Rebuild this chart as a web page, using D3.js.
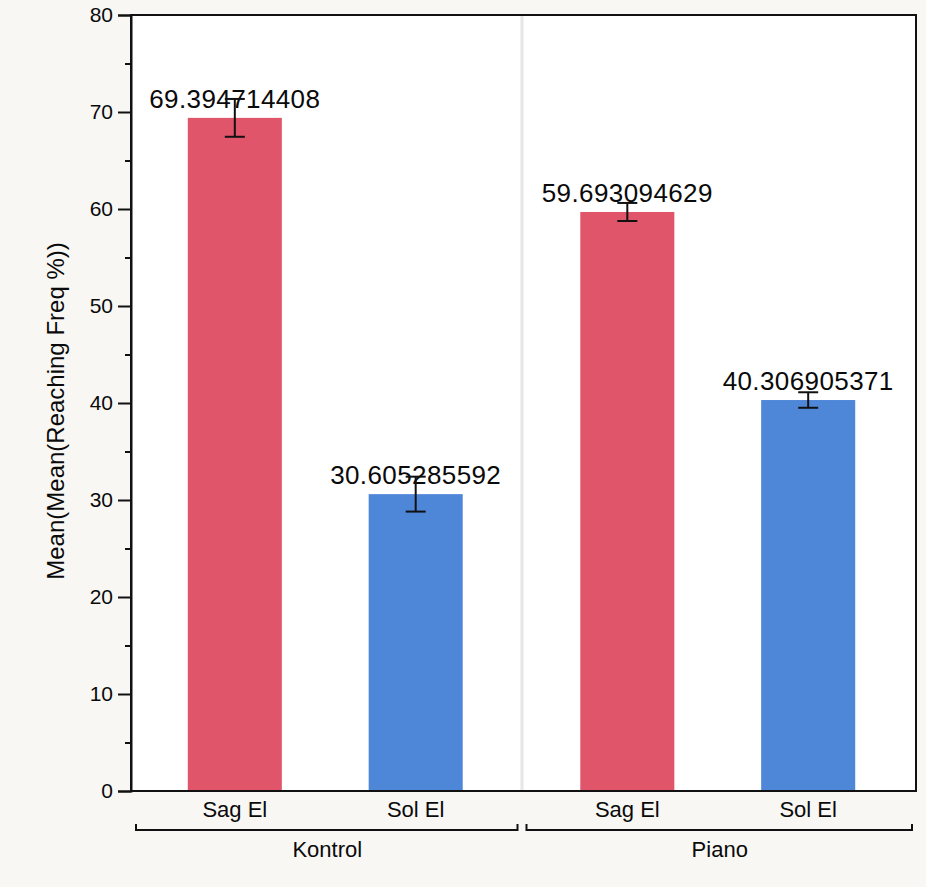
<!DOCTYPE html>
<html>
<head>
<meta charset="utf-8">
<script src="https://cdn.jsdelivr.net/npm/d3@7"></script>
<style>
  html, body { margin: 0; padding: 0; background: #f8f7f4; }
  svg { display: block; }
  text { font-family: "Liberation Sans", Arial, Helvetica, sans-serif; fill: #0a0a0a; }
</style>
</head>
<body>
<svg id="chart" width="926" height="887"></svg>
<script>
// ---- data ----
const groups = ["Kontrol", "Piano"];
const categories = ["Sag El", "Sol El"];
const kontrolMeans = [69.394714408, 30.605285592];
const pianoMeans = [59.693094629, 40.306905371];
const kontrolErr = [1.95, 1.8];
const pianoErr = [0.93, 0.8];
const yTicks = [0, 10, 20, 30, 40, 50, 60, 70, 80];
const yMinorTicks = [5, 15, 25, 35, 45, 55, 65, 75];
const yLabel = "Mean(Mean(Reaching Freq %))";
const barColors = ["#e0556a", "#4f87d8"];

const data = [];
groups.forEach((g, gi) => {
  const means = gi === 0 ? kontrolMeans : pianoMeans;
  const errs = gi === 0 ? kontrolErr : pianoErr;
  categories.forEach((c, ci) => {
    data.push({ group: g, cat: c, value: means[ci], err: errs[ci] });
  });
});

// ---- layout ----
const svg = d3.select("#chart");
const margin = { left: 131, right: 10, top: 15, bottom: 96 };
const W = 926, H = 887;
const x0 = margin.left, x1 = W - margin.right;
const yTop = margin.top, yBot = H - margin.bottom;

const y = d3.scaleLinear().domain([0, 80]).range([yBot, yTop]);
const xg = d3.scaleBand().domain(groups).range([x0, x1]).padding(0);
const xc = d3.scaleBand().domain(categories).range([0, xg.bandwidth()])
  .paddingInner(0.48).paddingOuter(0.325);

// plot background
svg.append("rect").attr("x", x0).attr("y", yTop)
  .attr("width", x1 - x0).attr("height", yBot - yTop).attr("fill", "#ffffff");

// group separators
groups.slice(1).forEach(g => {
  svg.append("line")
    .attr("x1", xg(g) - 1.5).attr("x2", xg(g) - 1.5)
    .attr("y1", yTop).attr("y2", yBot)
    .attr("stroke", "#e6e6e6").attr("stroke-width", 3);
});

// bars
svg.append("g").selectAll("rect").data(data).join("rect")
  .attr("x", d => xg(d.group) + xc(d.cat) - 2)
  .attr("y", d => y(d.value))
  .attr("width", xc.bandwidth())
  .attr("height", d => y(0) - y(d.value))
  .attr("fill", d => barColors[categories.indexOf(d.cat)]);

const cxOf = d => xg(d.group) + xc(d.cat) + xc.bandwidth() / 2 - 2;

// value labels
svg.append("g").selectAll("text").data(data).join("text")
  .attr("x", cxOf)
  .attr("y", d => y(d.value) - 10)
  .attr("text-anchor", "middle")
  .attr("font-size", 26)
  .attr("letter-spacing", 0.4)
  .text(d => String(d.value));

// error bars
const eb = svg.append("g").attr("stroke", "#111").attr("stroke-width", 2);
data.forEach(d => {
  const cx = cxOf(d);
  eb.append("line").attr("x1", cx).attr("x2", cx)
    .attr("y1", y(d.value + d.err)).attr("y2", y(d.value - d.err));
  [d.value + d.err, d.value - d.err].forEach(v => {
    eb.append("line").attr("x1", cx - 10).attr("x2", cx + 10)
      .attr("y1", y(v)).attr("y2", y(v));
  });
});

// frame
svg.append("rect").attr("x", x0).attr("y", yTop)
  .attr("width", x1 - x0).attr("height", yBot - yTop)
  .attr("fill", "none").attr("stroke", "#111").attr("stroke-width", 2);

// y axis
const yAxis = d3.axisLeft(y).tickValues(yTicks).tickSize(13).tickPadding(5)
  .tickFormat(d3.format("d"));
const ya = svg.append("g").attr("transform", `translate(${x0},0)`).call(yAxis);
ya.attr("font-family", null).attr("font-size", null);
ya.select(".domain").attr("stroke", "#111").attr("stroke-width", 2);
ya.selectAll(".tick line").attr("stroke", "#111").attr("stroke-width", 2);
ya.selectAll(".tick text").attr("font-size", 21).attr("fill", "#0a0a0a");

const yMinor = d3.axisLeft(y).tickValues(yMinorTicks).tickSize(6).tickFormat("");
const ym = svg.append("g").attr("transform", `translate(${x0},0)`).call(yMinor);
ym.select(".domain").remove();
ym.selectAll(".tick line").attr("stroke", "#111").attr("stroke-width", 2);

// y label
svg.append("text")
  .attr("transform", `translate(64,${(yTop + yBot) / 2 + 8}) rotate(-90)`)
  .attr("text-anchor", "middle")
  .attr("font-size", 24)
  .text(yLabel);

// category labels
svg.append("g").selectAll("text").data(data).join("text")
  .attr("x", cxOf)
  .attr("y", yBot + 26)
  .attr("text-anchor", "middle")
  .attr("font-size", 22)
  .text(d => d.cat);

// group brackets
const br = svg.append("g").attr("stroke", "#111").attr("stroke-width", 2).attr("fill", "none");
groups.forEach((g, gi) => {
  const a = xg(g) + (gi === 0 ? 5 : 3), b = xg(g) + xg.bandwidth() - (gi === 0 ? 6 : 4);
  const by = yBot + 39;
  br.append("path").attr("d", `M${a},${by - 6}V${by}H${b}V${by - 6}`);
  svg.append("text")
    .attr("x", xg(g) + xg.bandwidth() / 2)
    .attr("y", yBot + 66)
    .attr("text-anchor", "middle")
    .attr("font-size", 22)
    .text(g);
});
</script>
</body>
</html>
